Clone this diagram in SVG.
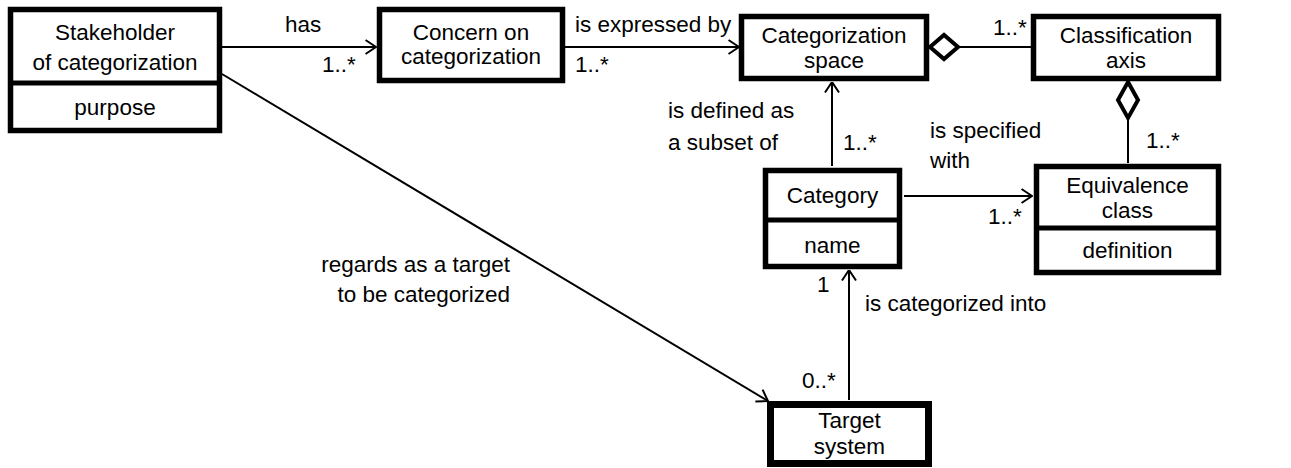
<svg xmlns="http://www.w3.org/2000/svg" width="1291" height="468" viewBox="0 0 1291 468">
<style>
.box{fill:#fff;stroke:#000;stroke-width:5.5}
.div{stroke:#000;stroke-width:5}
.t{font-family:"Liberation Sans",Arial,sans-serif;font-size:22.5px;fill:#000}
.c{text-anchor:middle}
.e{text-anchor:end}
.ln{stroke:#000;stroke-width:2;fill:none}
.dia{fill:#fff;stroke:#000;stroke-width:4}
</style>
<defs>
<marker id="open" viewBox="0 0 12 16" refX="11.5" refY="8" markerWidth="12" markerHeight="16" orient="auto" markerUnits="userSpaceOnUse">
<path d="M1,1 L11.5,8 L1,15" fill="none" stroke="#000" stroke-width="2"/>
</marker>
</defs>
<rect width="1291" height="468" fill="#fff"/>
<g id="connectors">
<line class="ln" x1="222" y1="47" x2="376" y2="47" marker-end="url(#open)"/>
<line class="ln" x1="565" y1="47" x2="739" y2="47" marker-end="url(#open)"/>
<line class="ln" x1="958" y1="47" x2="1031" y2="47"/>
<polygon class="dia" points="930,47 944,35 958,47 944,59"/>
<line class="ln" x1="1128" y1="118" x2="1128" y2="163"/>
<polygon class="dia" points="1128,82 1138,100 1128,118 1118,100"/>
<line class="ln" x1="832" y1="166" x2="832" y2="82" marker-end="url(#open)"/>
<line class="ln" x1="904" y1="196" x2="1032" y2="196" marker-end="url(#open)"/>
<line class="ln" x1="849" y1="400" x2="849" y2="270" marker-end="url(#open)"/>
<line class="ln" x1="222" y1="74" x2="768" y2="401" marker-end="url(#open)"/>
<text class="t" x="285" y="32">has</text>
<text class="t" x="322" y="72">1..*</text>
<text class="t" x="575" y="32">is expressed by</text>
<text class="t" x="575" y="72">1..*</text>
<text class="t" x="993" y="35">1..*</text>
<text class="t" x="1146" y="148">1..*</text>
<text class="t" x="668" y="118">is defined as</text>
<text class="t" x="668" y="150">a subset of</text>
<text class="t" x="843" y="150">1..*</text>
<text class="t" x="930" y="138">is specified</text>
<text class="t" x="930" y="168">with</text>
<text class="t" x="988" y="224">1..*</text>
<text class="t" x="817" y="292">1</text>
<text class="t" x="865" y="311">is categorized into</text>
<text class="t" x="802" y="388">0..*</text>
<text class="t e" x="510" y="272">regards as a target</text>
<text class="t e" x="510" y="302">to be categorized</text>
</g>
<g id="stakeholder">
<rect class="box" x="10.5" y="9.5" width="209" height="121"/>
<line class="div" x1="10.5" y1="83" x2="219.5" y2="83"/>
<text class="t c" x="115" y="40">Stakeholder</text>
<text class="t c" x="115" y="70">of categorization</text>
<text class="t c" x="115" y="115">purpose</text>
</g>
<g id="concern">
<rect class="box" x="379.5" y="9.5" width="183" height="71"/>
<text class="t c" x="471" y="40">Concern on</text>
<text class="t c" x="471" y="64">categorization</text>
</g>
<g id="catspace">
<rect class="box" x="741.5" y="16.5" width="185" height="62"/>
<text class="t c" x="834" y="43">Categorization</text>
<text class="t c" x="834" y="68">space</text>
</g>
<g id="classaxis">
<rect class="box" x="1033.5" y="16.5" width="185" height="62"/>
<text class="t c" x="1126" y="43">Classification</text>
<text class="t c" x="1126" y="68">axis</text>
</g>
<g id="category">
<rect class="box" x="765.5" y="170.5" width="134" height="96"/>
<line class="div" x1="765.5" y1="220" x2="899.5" y2="220"/>
<text class="t c" x="832.5" y="203">Category</text>
<text class="t c" x="832.5" y="253">name</text>
</g>
<g id="equivalence">
<rect class="box" x="1036.5" y="166.5" width="182" height="106"/>
<line class="div" x1="1036.5" y1="228" x2="1218.5" y2="228"/>
<text class="t c" x="1127.5" y="193">Equivalence</text>
<text class="t c" x="1127.5" y="218">class</text>
<text class="t c" x="1127.5" y="258">definition</text>
</g>
<g id="target">
<rect x="770.5" y="404.5" width="158" height="59" fill="#fff" stroke="#000" stroke-width="7"/>
<text class="t c" x="849.5" y="428">Target</text>
<text class="t c" x="849.5" y="454">system</text>
</g>
</svg>
